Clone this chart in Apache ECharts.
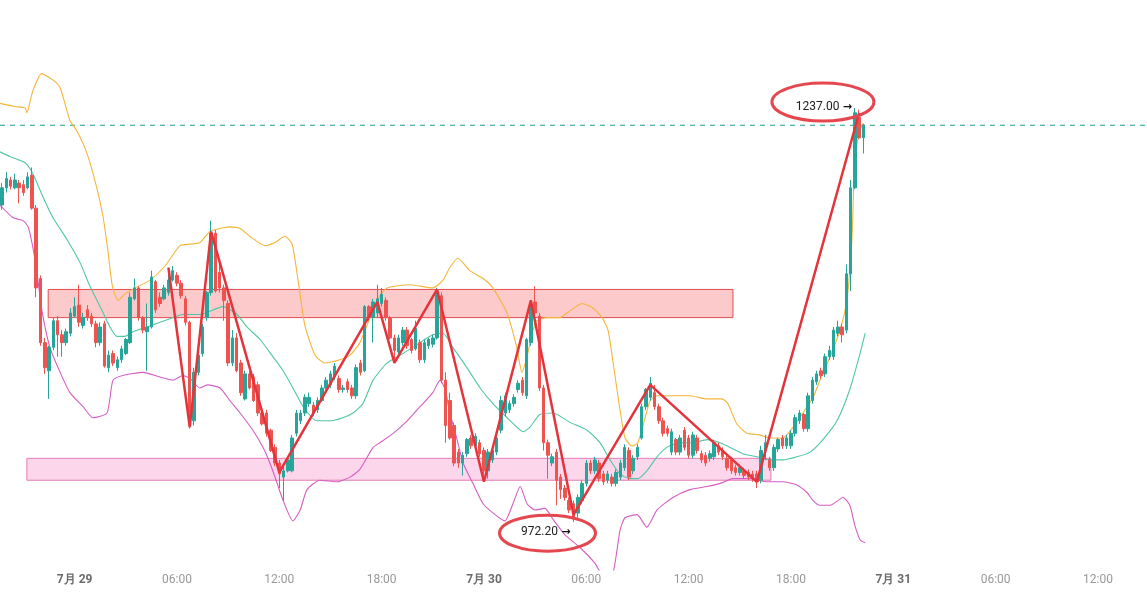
<!DOCTYPE html>
<html>
<head>
<meta charset="utf-8">
<script src="https://cdn.jsdelivr.net/npm/echarts@6/dist/echarts.min.js"></script>
<style>
  html, body { margin: 0; padding: 0; background: #fff; }
  #chart { width: 1147px; height: 599px; }
</style>
</head>
<body>
<div id="chart"></div>
<script>
// 15 min bars, first bar 7/28 19:45, axis runs to 7/31 14:45
const startTime = Date.UTC(2024, 6, 28, 19, 45)
const slotCount = 269
const step = 15 * 60 * 1000

const opens = [1175,1186,1191,1186,1189,1188,1186,1194,1173,1128,
  1087,1069,1084,1101,1092,1087,1093,1104,1111,1098,
  1108,1104,1099,1087,1099,1071,1080,1071,1076,1080,
  1087,1115,1122,1103,1094,1097,1126,1116,1115,1119,
  1127,1130,1125,1115,1100,1037,1068,1080,1103,1119,
  1157,1132,1122,1112,1074,1090,1074,1051,1067,1065,
  1060,1042,1042,1031,1020,1010,1001,1005,1005,1029,
  1037,1042,1048,1047,1044,1050,1058,1060,1065,1064,
  1057,1062,1058,1053,1074,1069,1110,1103,1106,1112,
  1114,1103,1090,1081,1087,1095,1089,1083,1087,1076,
  1085,1086,1090,1117,1063,1050,1034,1017,1010,1016,
  1026,1021,1023,1018,1005,1012,1017,1031,1042,1044,
  1048,1057,1063,1053,1087,1113,1104,1058,1023,1010,
  1017,1001,994,986,984,978,986,997,1010,1005,
  1010,1003,999,1001,997,1001,1007,1018,1005,1014,
  1026,1046,1052,1055,1046,1037,1032,1017,1025,1017,
  1031,1026,1015,1026,1016,1015,1013,1014,1021,1018,
  1013,1012,1007,1004,1005,1004,1003,1003,999,1018,
  1012,1007,1019,1026,1021,1021,1029,1037,1041,1032,
  1050,1062,1069,1067,1078,1078,1093,1097,1095,1131,
  1186,1231,1218]
const closes = [1186,1192,1187,1191,1186,1183,1193,1173,1122,1087,
  1071,1084,1101,1092,1087,1094,1106,1110,1100,1103,
  1103,1099,1087,1097,1072,1079,1074,1076,1083,1089,
  1116,1122,1103,1095,1097,1129,1108,1112,1122,1127,
  1133,1125,1117,1100,1037,1068,1079,1097,1119,1157,
  1120,1122,1114,1074,1090,1069,1055,1067,1058,1050,
  1042,1035,1029,1018,1010,1003,1005,1012,1026,1042,
  1042,1052,1052,1042,1050,1058,1063,1067,1072,1057,
  1058,1057,1053,1071,1068,1110,1103,1113,1115,1118,
  1103,1090,1082,1090,1095,1085,1082,1096,1076,1087,
  1089,1090,1118,1063,1034,1026,1010,1010,1015,1025,
  1021,1027,1016,1005,1017,1018,1026,1050,1053,1048,
  1052,1061,1055,1089,1111,1106,1058,1023,1015,1014,
  999,993,988,980,975,988,997,1010,1005,1012,
  1000,998,1003,997,1004,1010,1020,1001,1013,1020,
  1046,1057,1061,1046,1037,1029,1029,1030,1017,1026,
  1020,1015,1028,1018,1012,1010,1016,1023,1017,1014,
  1007,1005,1004,1007,1002,1001,1000,998,1018,1023,
  1007,1020,1025,1021,1026,1029,1039,1042,1032,1053,
  1063,1067,1066,1078,1082,1095,1097,1092,1131,1186,
  1234,1218,1226]
const lows = [1172,1183,1185,1185,1176,1181,1185,1172,1116,1085,
  1067,1051,1082,1078,1078,1085,1091,1103,1097,1096,
  1101,1097,1084,1085,1071,1068,1072,1069,1074,1079,
  1086,1114,1101,1093,1069,1096,1106,1110,1114,1117,
  1126,1123,1115,1098,1032,1034,1066,1078,1101,1117,
  1119,1119,1101,1072,1072,1068,1053,1050,1057,1049,
  1040,1034,1027,1017,1008,994,986,1004,1004,1027,
  1035,1040,1046,1040,1042,1049,1057,1058,1063,1055,
  1055,1055,1051,1051,1066,1068,1101,1087,1103,1110,
  1101,1089,1074,1079,1085,1083,1080,1082,1074,1074,
  1083,1084,1089,1061,1023,1025,1008,1007,1002,1014,
  1019,1019,1014,998,1000,1010,1015,1029,1040,1042,
  1046,1055,1053,1051,1085,1104,1056,1018,1000,1008,
  983,987,986,978,972.2,975,984,995,1003,1003,
  998,996,997,995,995,999,1005,999,1003,1012,
  1025,1044,1050,1044,1035,1027,1027,1015,1015,1015,
  1018,1013,1013,1016,1010,1008,1011,1012,1015,1012,
  1005,1003,1002,1002,1000,999,998,994,997,1012,
  1005,1005,1017,1019,1019,1019,1027,1035,1030,1030,
  1048,1060,1064,1065,1076,1076,1091,1087,1093,1120,
  1185,1217,1208]
const highs = [1189,1196,1193,1195,1191,1191,1196,1199,1175,1130,
  1090,1085,1103,1104,1095,1096,1109,1116,1124,1106,
  1111,1106,1101,1100,1101,1082,1082,1078,1085,1090,
  1119,1128,1123,1104,1112,1133,1127,1119,1124,1135,
  1136,1132,1127,1117,1101,1071,1081,1099,1120,1165,
  1159,1138,1124,1114,1095,1093,1076,1069,1069,1067,
  1062,1044,1044,1032,1022,1012,1008,1014,1028,1044,
  1044,1054,1055,1049,1052,1060,1065,1069,1074,1066,
  1060,1064,1060,1073,1076,1111,1111,1115,1124,1122,
  1116,1104,1092,1092,1097,1097,1090,1101,1089,1089,
  1090,1092,1122,1119,1068,1055,1036,1019,1017,1026,
  1028,1029,1025,1020,1019,1020,1028,1053,1055,1050,
  1054,1063,1065,1090,1114,1123,1106,1060,1025,1016,
  1019,1003,996,988,986,990,999,1012,1012,1014,
  1012,1005,1005,1003,1006,1012,1022,1020,1015,1022,
  1048,1058,1065,1060,1048,1039,1034,1032,1026,1028,
  1033,1028,1030,1028,1018,1017,1018,1025,1023,1020,
  1015,1014,1009,1009,1007,1006,1005,1005,1021,1028,
  1014,1022,1026,1028,1028,1031,1041,1044,1042,1055,
  1065,1069,1071,1080,1085,1097,1101,1099,1137,1191,
  1237,1236,1227]

// bollinger bands, [bar index, price]
const upperBand = [[-0.5,1240],[3,1238],[5.4,1237],[5.8,1234],[7.2,1248],[9.3,1259],[11.9,1255],[13.6,1250],
  [15.9,1229],[17.6,1222],[19.9,1208],[22.2,1186],[23.7,1167],[24.8,1146],[25.8,1124],[27.2,1114],[28.8,1118],
  [31.2,1122],[34.7,1127],[38.2,1136],
  [41.7,1149],[44.1,1150],[46.4,1151],[48.7,1158],[51.1,1160],[53.4,1161],[55.8,1160],[58.1,1155],[61.6,1149],
  [64,1151],[66.3,1155],[68,1150],[69.4,1127],[71,1098],[73.4,1079],[75.7,1074],[79.2,1076],[81.6,1079],
  [83.9,1087],[86.3,1103],[88.6,1117],[90.3,1122],[95.7,1124],[101,1122],[103.4,1127],[105,1135],[106.9,1141],
  [109.7,1133],[112.8,1128],[115.1,1122],[118.4,1106],[120.7,1084],[121.9,1068],[123.1,1078],[124.3,1093],
  [125.4,1101],[127.8,1103],[130.8,1103],[132.5,1106],[136,1112],[138.6,1109],[140.7,1103],[142.1,1095],
  [143.3,1074],[144.9,1044],[146.1,1026],[147.7,1021],[149.1,1023],[150.8,1039],[152,1050],[153.6,1053],
  [157.3,1053],[161.3,1053],[165.3,1051],[168.8,1051],[170.2,1048],[172.3,1035],[174.7,1029],[177.7,1028],
  [180.1,1026],[183.1,1026],[185.5,1033],[187.8,1042],[190.2,1052],[191.8,1063],[194.2,1078],[196.5,1095],
  [198.1,1114],[199.3,1153],[200,1206],[201.2,1223],[201.9,1227]]
const midBand = [[-0.5,1209],[1.8,1206],[5.4,1202],[7.2,1195],[9.6,1180],[11.9,1167],[15.2,1153],[18.3,1138],
  [20.6,1123],[23,1110],[25.3,1097],[26.9,1091],[28.8,1091],[30.7,1094],[34,1097],[37,1100],[40.1,1103],
  [42.4,1105],[46.4,1105],[51.8,1110],[55.1,1105],[57.4,1097],[60.5,1089],[63.5,1078],[65.9,1069],[68.2,1058],
  [70.6,1046],[73.8,1037],[76.9,1037],[79.9,1039],[82.3,1042],[84.6,1048],[87,1063],[90.3,1074],[94,1080],
  [98,1087],[101,1092],[103.4,1093],[105.7,1084],[109,1071],[112.1,1058],[115.1,1048],[118.4,1039],
  [120.7,1033],[122.2,1030],[123.8,1033],[126.1,1041],[129.2,1042],[133.2,1036],[137.2,1031],[140.2,1023],
  [142.6,1012],[144.9,1003],[147.2,1000],[149.1,1000],[151.2,1005],[153.6,1014],[155.9,1020],[159,1023],
  [162,1023],[165.3,1025],[168.4,1023],[170.7,1020],[173.7,1016],[177,1014],[180.1,1012],[183.1,1012],
  [186.4,1014],[189.5,1017],[192.5,1025],[195.8,1037],[198.8,1057],[201.2,1080],[202.4,1093]]
const lowBand = [[-0.5,1175],[2.5,1167],[4.9,1165],[6.1,1161],[7.2,1148],[8.2,1131],[9.3,1108],[11.2,1084],
  [13.6,1068],[15.9,1055],[19,1046],[21.3,1039],[24.6,1042],[26,1063],[28.3,1066],[33,1068],[37,1065],
  [40.1,1063],[42.4,1066],[44.1,1064],[46.4,1058],[48.1,1060],[51.1,1058],[53.4,1050],[55.8,1042],[58.8,1031],
  [61.2,1020],[62.8,1010],[64.5,997],[65.9,986],[68.2,973],[69.9,980],[71.5,993],[74.5,999],[78.5,998],
  [81.6,1001],[83.9,1006],[87,1020],[88.6,1023],[91.7,1029],[95,1037],[98,1046],[101,1055],[102.7,1063],
  [103.9,1057],[105,1042],[106.7,1025],[108.1,1010],[110.4,997],[112.8,984],[115.6,977],[117.9,973],
  [119.8,984],[121.5,995],[123.1,984],[125,980],[127.3,981],[129.2,974],[132,964],[135.5,956],[139,946],
  [141.4,936],[143.3,940],[144.9,967],[146.1,975],[148.9,977],[151.2,969],[153.6,980],[157.3,988],
  [161.3,993],[165.3,995],[168.4,997],[171.4,1000],[175.4,1000],[179.4,998],[183.1,998],[186.4,996],
  [188.8,991],[190.2,986],[191.8,983],[194.2,983],[197.2,988],[198.8,983],[200,970],[201.2,961],[202.4,959]]

// zigzag pivots
const zigIdx = [39, 44, 49, 65, 88, 92, 102, 113, 124, 134, 152, 177, 201]
const zigPrice = [1135, 1033, 1158, 1004, 1113, 1074, 1121, 998, 1114, 977, 1060, 998, 1234]

// zones: [fromIdx, toIdx, top, bottom]
const resistZone = [10.8, 171.4, 1121, 1103]
const supportZone = [5.8, 180.3, 1013, 999]
const lastPrice = 1226
const highMark = { idx: 200, price: 1237.0 }
const lowMark = { idx: 134, price: 972.2 }

const categories = []
for (let i = 0; i < slotCount; i++) categories.push(String(startTime + i * step))

const ohlc = opens.map((o, i) => [o, closes[i], lows[i], highs[i]])
const pad = n => (n < 10 ? '0' : '') + n

const chart = echarts.init(document.getElementById('chart'))
chart.setOption({
  animation: false,
  backgroundColor: '#fff',
  textStyle: { fontFamily: 'Roboto, sans-serif' },
  grid: { left: 0, right: 0, top: 0, bottom: 29 },
  xAxis: [{
    type: 'category',
    data: categories,
    boundaryGap: true,
    axisLine: { show: false },
    axisTick: { show: false },
    splitLine: { show: false },
    axisLabel: {
      margin: 4,
      interval: (idx, val) => {
        const d = new Date(Number(val))
        return d.getUTCMinutes() === 0 && d.getUTCHours() % 6 === 0
      },
      formatter: val => {
        const d = new Date(Number(val))
        if (d.getUTCHours() === 0) return '{d|' + (d.getUTCMonth() + 1) + '月 ' + d.getUTCDate() + '}'
        return '{t|' + pad(d.getUTCHours()) + ':' + pad(d.getUTCMinutes()) + '}'
      },
      rich: {
        d: { fontSize: 12, fontWeight: 'bold', color: '#6b6b6b', fontFamily: 'Roboto, sans-serif' },
        t: { fontSize: 12, color: '#999', fontFamily: 'Roboto, sans-serif' }
      }
    }
  }, {
    type: 'value',
    min: -0.5,
    max: slotCount - 0.5,
    show: false
  }],
  yAxis: {
    type: 'value',
    min: 941.6,
    max: 1306.1,
    show: false,
    splitLine: { show: false }
  },
  series: [
    {
      // last price line
      type: 'line', xAxisIndex: 1, symbol: 'none', silent: true, z: 1,
      data: [[-0.5, lastPrice], [slotCount - 0.5, lastPrice]],
      itemStyle: { color: '#16a08c' },
      lineStyle: { color: '#16a08c', type: [5, 5], width: 1.2 }
    },
    {
      type: 'line', xAxisIndex: 1, data: upperBand, smooth: 0.2, symbol: 'none',
      lineStyle: { color: '#f5b53a', width: 1.1 }, z: 2
    },
    {
      type: 'line', xAxisIndex: 1, data: midBand, smooth: 0.2, symbol: 'none',
      lineStyle: { color: '#4fc7a6', width: 1.1 }, z: 2
    },
    {
      type: 'line', xAxisIndex: 1, data: lowBand, smooth: 0.2, symbol: 'none',
      lineStyle: { color: '#d65dc3', width: 1.1 }, z: 2
    },
    {
      type: 'candlestick',
      data: ohlc,
      barWidth: 3,
      itemStyle: {
        color: '#26a69a', color0: '#ef5350',
        borderColor: '#26a69a', borderColor0: '#ef5350', borderWidth: 1
      },
      z: 3
    },
    {
      // zones drawn over the bars
      type: 'line', xAxisIndex: 1, data: [], symbol: 'none', z: 4,
      markArea: {
        silent: true,
        data: [
          [{ xAxis: resistZone[0], yAxis: resistZone[2],
             itemStyle: { color: 'rgba(245,80,80,0.3)', borderColor: '#e44d4d', borderWidth: 1 } },
           { xAxis: resistZone[1], yAxis: resistZone[3] }],
          [{ xAxis: supportZone[0], yAxis: supportZone[2],
             itemStyle: { color: 'rgba(245,120,190,0.3)', borderColor: '#e47cb6', borderWidth: 1 } },
           { xAxis: supportZone[1], yAxis: supportZone[3] }]
        ]
      }
    },
    {
      type: 'line', xAxisIndex: 1, symbol: 'none', z: 5,
      data: zigIdx.map((x, i) => [x, zigPrice[i]]),
      lineStyle: { color: '#e5333c', width: 2.5 }
    }
  ]
})

// price tags with ellipses
const hi = chart.convertToPixel({ seriesIndex: 6 }, [highMark.idx, highMark.price])
const lo = chart.convertToPixel({ seriesIndex: 6 }, [lowMark.idx, lowMark.price])
const tagStyle = txt => ({
  text: '{n|' + txt + '} {a|→}',
  align: 'right', verticalAlign: 'middle',
  rich: {
    n: { fontSize: 12, fontFamily: 'Roboto, sans-serif', fill: '#222', color: '#222' },
    a: { fontSize: 11, fontFamily: 'DejaVu Sans', fontWeight: 'bold', fill: '#111', color: '#111' }
  }
})
chart.setOption({
  graphic: [
    { type: 'text', x: hi[0] - 3, y: hi[1] - 1, z: 10, style: tagStyle(highMark.price.toFixed(2)) },
    { type: 'ellipse', z: 10, shape: { cx: hi[0] - 32, cy: hi[1] - 6, rx: 51, ry: 19 },
      style: { fill: 'none', stroke: '#e5474f', lineWidth: 3 } },
    { type: 'text', x: lo[0] - 3, y: lo[1] + 10, z: 10, style: tagStyle(lowMark.price.toFixed(2)) },
    { type: 'ellipse', z: 10, shape: { cx: lo[0] - 26, cy: lo[1] + 11, rx: 48, ry: 18 },
      style: { fill: 'none', stroke: '#e5474f', lineWidth: 3 } }
  ]
})
</script>
</body>
</html>
